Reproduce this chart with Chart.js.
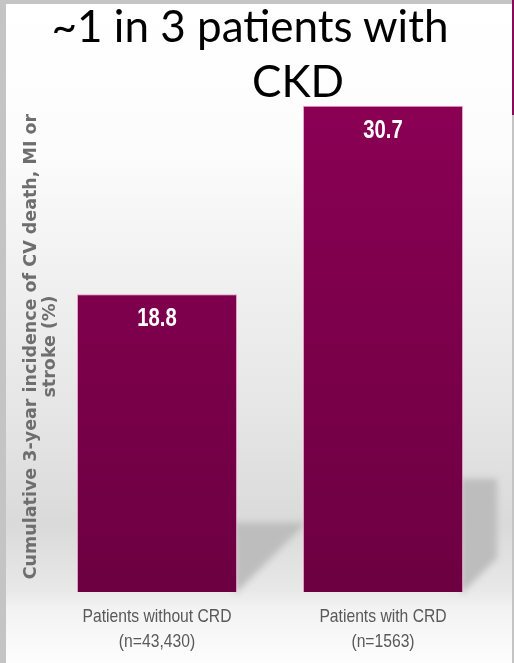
<!DOCTYPE html>
<html>
<head>
<meta charset="utf-8">
<title>CV events by CRD status</title>
<script src="https://cdn.jsdelivr.net/npm/chart.js@4.4.1/dist/chart.umd.min.js"></script>
<style>
  html, body { margin: 0; padding: 0; }
  body { width: 514px; height: 663px; position: relative; overflow: hidden; background: #fff; }
  #incidenceChart { position: absolute; left: 0; top: 0; }
  .headline {
    position: absolute;
    width: 500px;
    text-align: center;
    font-family: Lato, "Noto Sans", sans-serif;
    font-size: 44px;
    line-height: 1;
    color: #000;
    white-space: nowrap;
  }
  #line1 { left: 0; top: 3px; }
  #line2 { left: 48px; top: 58px; }
</style>
</head>
<body>
<canvas id="incidenceChart" width="514" height="663"></canvas>
<div class="headline" id="line1">~1 in 3 patients with</div>
<div class="headline" id="line2">CKD</div>

<script>
const categories = [
  ['Patients without CRD', '(n=43,430)'],
  ['Patients with CRD', '(n=1563)']
];
const incidence = [18.8, 30.7];
const yMax = 31;
const yTitle = ['Cumulative 3-year incidence of CV death, MI or', 'stroke (%)'];

// slide frame + soft wall gradient behind the bars
const backdrop = {
  id: 'backdrop',
  beforeDraw(chart) {
    const { ctx, width, height } = chart;
    ctx.save();
    ctx.fillStyle = '#c4c4c4';
    ctx.fillRect(0, 0, width, height);

    const g = ctx.createLinearGradient(0, 0, 0, height);
    g.addColorStop(0, '#ffffff');
    g.addColorStop(150 / 663, '#fcfcfc');
    g.addColorStop(260 / 663, '#f2f2f2');
    g.addColorStop(420 / 663, '#e5e5e5');
    g.addColorStop(525 / 663, '#dadada');
    g.addColorStop(590 / 663, '#e8e8e8');
    g.addColorStop(610 / 663, '#f3f3f3');
    g.addColorStop(1, '#fdfdfd');
    ctx.fillStyle = g;
    ctx.fillRect(6, 4, width - 8, height - 4);

    ctx.fillStyle = '#8a0a5a';
    ctx.fillRect(width - 2, 0, 2, 115);
    ctx.restore();
  }
};

// diagonal shadow cast by each bar onto the back wall
const barShadow = {
  id: 'barShadow',
  beforeDatasetsDraw(chart, args, opts) {
    const { ctx } = chart;
    const meta = chart.getDatasetMeta(0);
    ctx.save();
    ctx.filter = 'blur(3px)';
    ctx.fillStyle = opts.color;
    meta.data.forEach((bar, i) => {
      const right = bar.x + bar.width / 2;
      const top = bar.base - (bar.base - bar.y) * opts.depth;
      const w = opts.reach[i];
      ctx.beginPath();
      ctx.moveTo(right - 2, top);
      ctx.lineTo(right + w, top);
      ctx.lineTo(right + w, bar.base - w);
      ctx.lineTo(right - 2, bar.base + 2);
      ctx.closePath();
      ctx.fill();
    });
    ctx.restore();
  }
};

// white value printed near the top of each bar
const valueLabels = {
  id: 'valueLabels',
  afterDatasetsDraw(chart) {
    const { ctx } = chart;
    const meta = chart.getDatasetMeta(0);
    const values = chart.data.datasets[0].data;
    ctx.save();
    ctx.fillStyle = '#ffffff';
    ctx.font = 'bold 26px "Liberation Sans", Arial, sans-serif';
    ctx.textAlign = 'center';
    ctx.textBaseline = 'middle';
    meta.data.forEach((bar, i) => {
      ctx.save();
      ctx.translate(bar.x, bar.y + 25);
      ctx.scale(0.78, 1);
      ctx.fillText(values[i].toFixed(1), 0, 0);
      ctx.restore();
    });
    ctx.restore();
  }
};

// condensed two-line category labels under each bar, placed by the x scale
const categoryLabels = {
  id: 'categoryLabels',
  afterDraw(chart, args, opts) {
    const { ctx } = chart;
    const x = chart.scales.x;
    ctx.save();
    ctx.fillStyle = opts.color;
    ctx.font = opts.font;
    ctx.textAlign = 'center';
    ctx.textBaseline = 'middle';
    chart.data.labels.forEach((lines, i) => {
      const px = x.getPixelForValue(i);
      lines.forEach((line, j) => {
        ctx.save();
        ctx.translate(px, x.top + opts.offset + j * opts.lineHeight);
        ctx.scale(opts.squeeze, 1);
        ctx.fillText(line, 0, 0);
        ctx.restore();
      });
    });
    ctx.restore();
  }
};

function barFill(context) {
  const { chart } = context;
  const area = chart.chartArea;
  if (!area) return '#7c004b';
  const g = chart.ctx.createLinearGradient(0, area.top, 0, area.bottom);
  g.addColorStop(0, '#8a0054');
  g.addColorStop(1, '#6c0041');
  return g;
}

new Chart(document.getElementById('incidenceChart'), {
  type: 'bar',
  data: {
    labels: categories,
    datasets: [{
      data: incidence,
      backgroundColor: barFill,
      borderColor: 'rgba(220, 130, 180, 0.7)',
      borderWidth: 1,
      borderSkipped: 'bottom',
      barPercentage: 0.708,
      categoryPercentage: 1
    }]
  },
  options: {
    responsive: false,
    animation: false,
    layout: { padding: { top: 101, left: 6, right: 18, bottom: 0 } },
    plugins: {
      legend: { display: false },
      tooltip: { enabled: false },
      barShadow: { color: '#bdbdbd', depth: 0.233, reach: [70, 34] },
      categoryLabels: {
        color: '#595959',
        font: '19px "Liberation Sans", Arial, sans-serif',
        offset: 25,
        lineHeight: 25,
        squeeze: 0.825
      }
    },
    scales: {
      x: {
        grid: { display: false, drawTicks: false },
        border: { display: false },
        ticks: { display: false },
        afterFit(axis) { axis.height = 71; }
      },
      y: {
        min: 0,
        max: yMax,
        grid: { display: false, drawTicks: false },
        border: { display: false },
        ticks: { display: false },
        afterFit(axis) { axis.width = 38; },
        title: {
          display: true,
          text: yTitle,
          color: '#6e6e6e',
          padding: { top: 16, bottom: 0 },
          font: { family: '"DejaVu Sans", sans-serif', size: 17.5, weight: 'bold', lineHeight: 1.1 }
        }
      }
    }
  },
  plugins: [backdrop, barShadow, valueLabels, categoryLabels]
});
</script>
</body>
</html>
